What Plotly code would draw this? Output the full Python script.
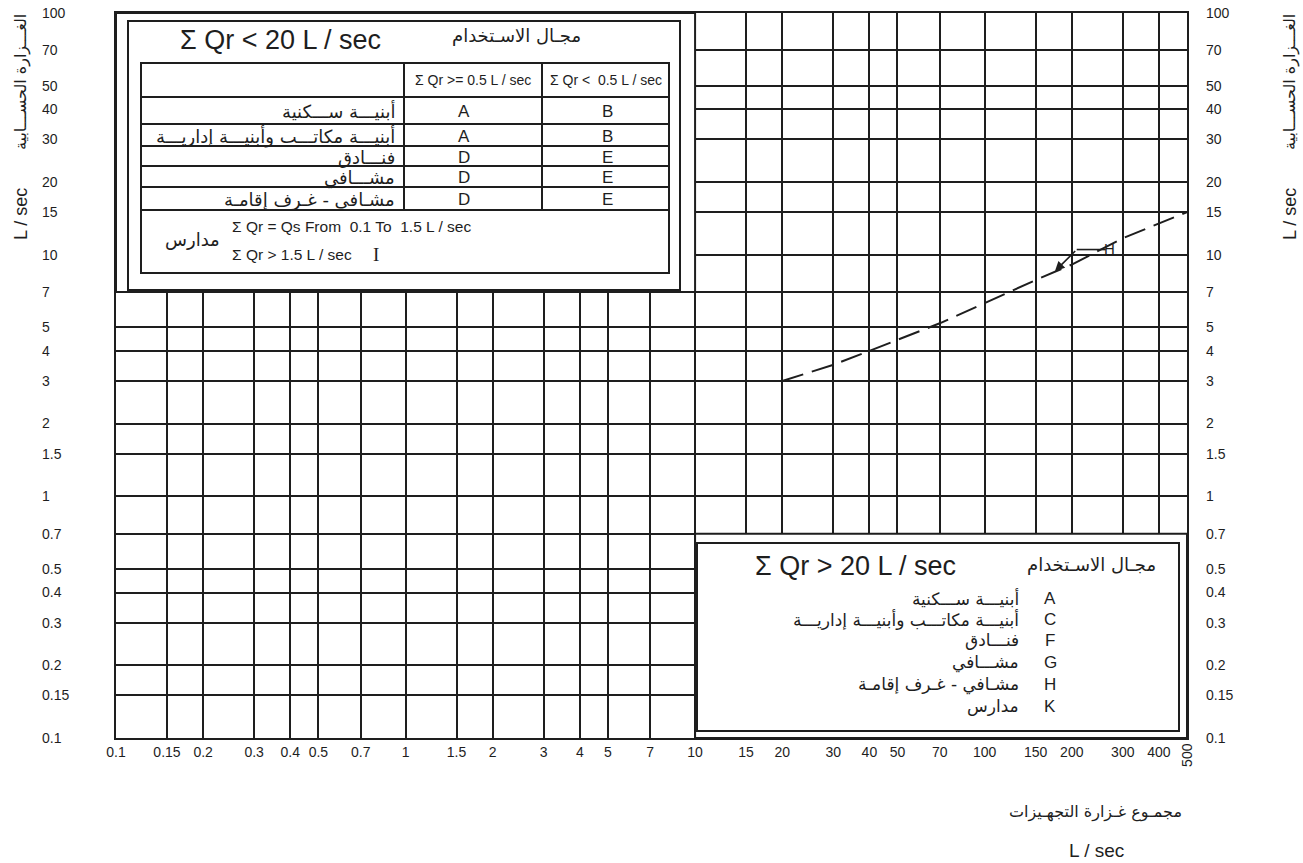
import math
import plotly.graph_objects as go

W, H = 1303, 863
INK = "#1e1e1e"

# ---------------- data ----------------
x_grid = [0.1, 0.15, 0.2, 0.3, 0.4, 0.5, 0.7, 1, 1.5, 2, 3, 4, 5, 7, 10, 15, 20, 30, 40, 50, 70,
          100, 150, 200, 300, 400, 500]
x_labels = ["0.1", "0.15", "0.2", "0.3", "0.4", "0.5", "0.7", "1", "1.5", "2", "3", "4", "5", "7",
            "10", "15", "20", "30", "40", "50", "70", "100", "150", "200", "300", "400", ""]
x_end_label = "500"
y_grid = [0.1, 0.15, 0.2, 0.3, 0.4, 0.5, 0.7, 1, 1.5, 2, 3, 4, 5, 7, 10, 15, 20, 30, 40, 50, 70, 100]
y_labels = ["0.1", "0.15", "0.2", "0.3", "0.4", "0.5", "0.7", "1", "1.5", "2", "3", "4", "5", "7",
            "10", "15", "20", "30", "40", "50", "70", "100"]

curve_x = [20, 30, 40, 50, 70, 100, 150, 200, 300, 500]
curve_y = [3.0, 3.5, 4.0, 4.45, 5.2, 6.3, 7.85, 9.1, 11.7, 15.0]

pointer_x = [262, 208, 175]
pointer_y = [10.5, 10.5, 8.55]
pointer_label = "H"

small_region_x = [0.1, 10]
small_region_y = [7, 100]
large_region_x = [10, 500]
large_region_y = [0.1, 0.7]

usage_ar = "مجـال الاسـتخدام"
small_title = "Σ Qr < 20 L / sec"
large_title = "Σ Qr > 20 L / sec"
col_heads = ["Σ Qr >= 0.5 L / sec", "Σ Qr <  0.5 L / sec"]
building_types = ["أبنيـــة ســـكنية", "أبنيـــة مكاتـــب وأبنيـــة إداريـــة", "فنـــادق",
                  "مشـــافي", "مشـافي - غـرف إقامـة"]
col_a = ["A", "A", "D", "D", "D"]
col_b = ["B", "B", "E", "E", "E"]
schools_ar = "مدارس"
schools_lines = ["Σ Qr = Qs From  0.1 To  1.5 L / sec", "Σ Qr > 1.5 L / sec"]
schools_mark = "I"
large_codes = ["A", "C", "F", "G", "H", "K"]
large_types = ["أبنيـــة ســـكنية", "أبنيـــة مكاتـــب وأبنيـــة إداريـــة", "فنـــادق",
               "مشـــافي", "مشـافي - غـرف إقامـة", "مدارس"]
y_title_ar = "الغـــزارة الحســـابية"
unit = "L / sec"
x_title_ar = "مجمـوع غـزارة التجهـيزات"

# ---------------- layout helpers ----------------
L_M, R_M, T_M, B_M = 0, 0, 13, 125
PLOT_L, PLOT_R = 116, 1187


def px(v):
    return v / W


def py(v):
    return (H - B_M - v) / (H - T_M - B_M)


SANS = "Liberation Sans, Arial, sans-serif"
AR = "DejaVu Sans, Noto Sans, sans-serif"

fig = go.Figure()

fig.add_trace(go.Scatter(x=curve_x, y=curve_y, mode="lines",
                         line=dict(color=INK, width=2, dash="22px,9px"),
                         hoverinfo="skip", showlegend=False))
fig.add_trace(go.Scatter(x=pointer_x[:2], y=pointer_y[:2], mode="lines",
                         line=dict(color=INK, width=1.6), hoverinfo="skip", showlegend=False))
# helper invisible traces so overlay axes render
for ax in ["y2", "y3"]:
    fig.add_trace(go.Scatter(x=curve_x[:1], y=curve_y[:1], yaxis=ax, mode="markers",
                             marker=dict(opacity=0), hoverinfo="skip", showlegend=False))

shapes = []
annotations = []

# white regions without grid (boxes)
for rx, ry in [(small_region_x, small_region_y), (large_region_x, large_region_y)]:
    shapes.append(dict(type="rect", xref="x", yref="y", x0=rx[0], x1=rx[1], y0=ry[0], y1=ry[1],
                       fillcolor="white", line=dict(color=INK, width=2), layer="above"))


def rect(x0, y0, x1, y1, w=2):
    shapes.append(dict(type="rect", xref="paper", yref="paper", x0=px(x0), x1=px(x1),
                       y0=py(y1), y1=py(y0), line=dict(color=INK, width=w), layer="above"))


def hline(x0, x1, y, w=2):
    shapes.append(dict(type="line", xref="paper", yref="paper", x0=px(x0), x1=px(x1),
                       y0=py(y), y1=py(y), line=dict(color=INK, width=w), layer="above"))


def vline(x, y0, y1, w=2):
    shapes.append(dict(type="line", xref="paper", yref="paper", x0=px(x), x1=px(x),
                       y0=py(y0), y1=py(y1), line=dict(color=INK, width=w), layer="above"))


def text(t, x, y, size, family=SANS, xanchor="center", angle=0):
    annotations.append(dict(text=t, xref="paper", yref="paper", x=px(x), y=py(y),
                            xanchor=xanchor, yanchor="middle", showarrow=False,
                            textangle=angle, font=dict(size=size, family=family, color=INK)))


# ---- small-flow box (top-left)
rect(128, 21, 680, 290)
tl, tr, tt, tb = 141, 669, 63, 273
rect(tl, tt, tr, tb)
c1, c2 = 404, 542
row_lines = [97, 124, 146, 166, 187, 210]
for yy in row_lines:
    hline(tl, tr, yy)
vline(c1, tt, row_lines[-1])
vline(c2, tt, row_lines[-1])

text(small_title, 280, 40, 27)
text(usage_ar, 516, 36, 18, AR)
text(col_heads[0], (c1 + c2) / 2, 80, 14)
text(col_heads[1], (c2 + tr) / 2, 80, 14)
for i in range(len(building_types)):
    yc = (row_lines[i] + row_lines[i + 1]) / 2 + 1
    text(building_types[i], 397, yc, 18, AR, xanchor="right")
    text(col_a[i], 464, yc, 17)
    text(col_b[i], 607, yc, 17)
text(schools_ar, 192, 239, 18, AR)
text(schools_lines[0], 230, 226, 15.5, xanchor="left")
text(schools_lines[1], 230, 255, 15.5, xanchor="left")
text(schools_mark, 376, 255, 19, "Liberation Serif, Times New Roman, serif")

# ---- large-flow box (bottom-right)
rect(697, 543, 1179, 731)
text(large_title, 855, 566, 27)
text(usage_ar, 1091, 564, 18, AR)
row_y = [598, 619, 640, 662, 684, 706]
for i in range(len(large_codes)):
    text(large_codes[i], 1050, row_y[i], 17)
    text(large_types[i], 1021, row_y[i], 17, AR, xanchor="right")

# ---- pointer arrow and label
annotations.append(dict(x=math.log10(pointer_x[2]), y=math.log10(pointer_y[2]),
                        ax=math.log10(pointer_x[1]), ay=math.log10(pointer_y[1]),
                        xref="x", yref="y", axref="x", ayref="y", text="", showarrow=True,
                        arrowhead=2, arrowsize=1.2, arrowwidth=1.6, arrowcolor=INK))
annotations.append(dict(x=math.log10(pointer_x[0]) + 0.012, y=math.log10(pointer_y[0]) + 0.004,
                        xref="x", yref="y", text=pointer_label, showarrow=False,
                        font=dict(size=15, family=SANS, color=INK)))

# ---- rotated end label of x axis
annotations.append(dict(x=math.log10(x_grid[-1]), y=-0.004, xref="x", yref="paper",
                        text=x_end_label, textangle=-90, showarrow=False, yanchor="top",
                        xanchor="center", font=dict(size=14, family=SANS, color=INK)))

# ---- axis titles
text(unit, 21, 214, 18, SANS, angle=-90)
text(y_title_ar, 21, 82, 16, AR, angle=-90)
text(unit, 1290, 214, 18, SANS, angle=-90)
text(y_title_ar, 1290, 82, 16, AR, angle=-90)
text(x_title_ar, 1095, 812, 16, AR)
text(unit, 1096, 850, 19, SANS)

axis_common = dict(type="log", showgrid=True, gridcolor=INK, gridwidth=1.8, zeroline=False,
                   ticks="")
fig.update_layout(
    width=W, height=H, margin=dict(l=L_M, r=R_M, t=T_M, b=B_M, autoexpand=False),
    paper_bgcolor="white", plot_bgcolor="white", showlegend=False,
    font=dict(family=SANS, color=INK, size=14),
    xaxis=dict(**axis_common, range=[math.log10(x_grid[0]), math.log10(x_grid[-1])],
               domain=[PLOT_L / W, PLOT_R / W], tickvals=x_grid, ticktext=x_labels,
               showline=True, mirror=True, linecolor=INK, linewidth=2,
               tickfont=dict(size=14, family=SANS, color=INK), ticklabelstandoff=0),
    yaxis=dict(**axis_common, range=[math.log10(y_grid[0]), math.log10(y_grid[-1])],
               tickvals=y_grid, showticklabels=False,
               showline=True, mirror=True, linecolor=INK, linewidth=2),
    yaxis2=dict(type="log", overlaying="y", side="right", anchor="x",
                range=[math.log10(y_grid[0]), math.log10(y_grid[-1])],
                tickvals=y_grid, ticktext=y_labels, showgrid=False, zeroline=False, ticks="",
                showline=False, ticklabelstandoff=18,
                tickfont=dict(size=14, family=SANS, color=INK)),
    yaxis3=dict(type="log", overlaying="y", side="left", anchor="free", position=38 / W,
                range=[math.log10(y_grid[0]), math.log10(y_grid[-1])],
                tickvals=y_grid, ticktext=y_labels, showgrid=False, zeroline=False, ticks="",
                showline=False, ticklabelposition="inside", ticklabeloverflow="allow",
                tickfont=dict(size=14, family=SANS, color=INK)),
    shapes=shapes, annotations=annotations,
)

fig.write_html("out.html")
